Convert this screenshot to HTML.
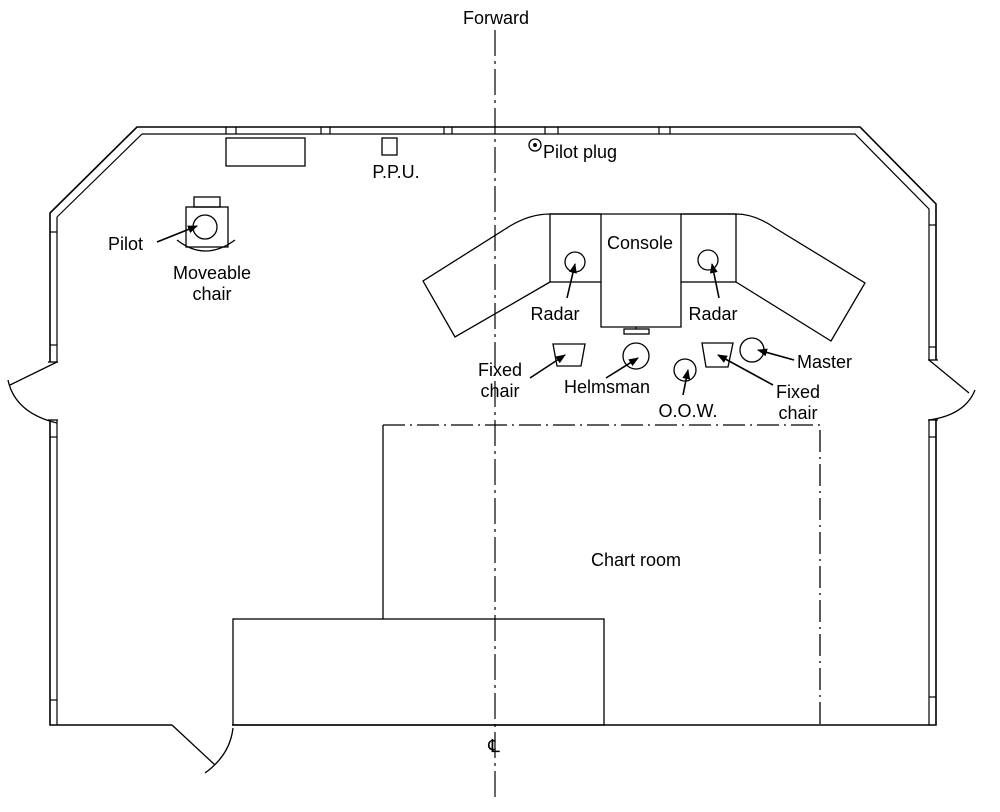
<!DOCTYPE html>
<html><head><style>
html,body{margin:0;padding:0;background:#fff;}
svg{display:block;}
text{font-family:"Liberation Sans",sans-serif;font-size:18px;fill:#000;}
</style></head><body>
<svg width="1000" height="812" viewBox="0 0 1000 812" xmlns="http://www.w3.org/2000/svg">
<defs><marker id="a" markerWidth="10" markerHeight="8" refX="9" refY="4" orient="auto" markerUnits="userSpaceOnUse"><path d="M0,0 L10,4 L0,8 z" fill="#000"/></marker></defs>
<g fill="none" stroke="#000" stroke-width="1.6">
<!-- outer walls -->
<path d="M137,127 L860,127 L936,204 L936,725 L50,725 L50,213 Z"/>
<path d="M142,134 L855,134 L929,209 L929,725 M57,725 L57,217 Z" stroke-width="1.2"/>
<path d="M142,134 L57,217" stroke-width="1.2"/>
<!-- window mullions -->
<g stroke-width="1.2">
<line x1="226" y1="127" x2="226" y2="134"/><line x1="236" y1="127" x2="236" y2="134"/>
<line x1="321" y1="127" x2="321" y2="134"/><line x1="330" y1="127" x2="330" y2="134"/>
<line x1="444" y1="127" x2="444" y2="134"/><line x1="452" y1="127" x2="452" y2="134"/>
<line x1="545" y1="127" x2="545" y2="134"/><line x1="558" y1="127" x2="558" y2="134"/>
<line x1="659" y1="127" x2="659" y2="134"/><line x1="670" y1="127" x2="670" y2="134"/>
<line x1="50" y1="232" x2="57" y2="232"/><line x1="50" y1="345" x2="57" y2="345"/>
<line x1="50" y1="437" x2="57" y2="437"/><line x1="50" y1="700" x2="57" y2="700"/>
<line x1="929" y1="225" x2="936" y2="225"/><line x1="929" y1="347" x2="936" y2="347"/>
<line x1="929" y1="437" x2="936" y2="437"/><line x1="929" y1="697" x2="936" y2="697"/>
</g>
</g>
<!-- door gaps -->
<rect x="48" y="362" width="11" height="58" fill="#fff"/>
<rect x="927" y="360" width="11" height="60" fill="#fff"/>
<rect x="172" y="722" width="60" height="6" fill="#fff"/>
<g fill="none" stroke="#000" stroke-width="1.3">
<line x1="48" y1="362" x2="58" y2="362"/><line x1="48" y1="420" x2="58" y2="420"/>
<line x1="928" y1="360" x2="938" y2="360"/><line x1="928" y1="420" x2="938" y2="420"/>
<path d="M57,362 L10,385"/><path d="M8,380 Q15,413 57,423"/>
<path d="M929,360 L969,393"/><path d="M975,390 Q965,415 929,420"/>
<path d="M172,725 L215,765"/><path d="M233,728 Q230,755 205,773"/>
<!-- fixtures -->
<rect x="226" y="138" width="79" height="28"/>
<rect x="382" y="138" width="15" height="17"/>
<circle cx="535" cy="145" r="6"/><circle cx="535" cy="145" r="1.3" fill="#000"/>
<!-- pilot chair -->
<rect x="194" y="197" width="26" height="10"/>
<rect x="186" y="207" width="42" height="40"/>
<circle cx="205" cy="227" r="12"/>
<path d="M177,240 Q205,262 235,240"/>
<!-- console -->
<path d="M550,214 L736,214"/>
<rect x="550" y="214" width="51" height="68"/>
<rect x="681" y="214" width="55" height="68"/>
<path d="M601,282 L601,327 L681,327 L681,282"/>
<path d="M550,214 Q530,214 510,226 L423,281 L455,337 L550,282"/>
<path d="M736,214 Q755,214 775,228 L865,283 L831,341 L736,282"/>
<circle cx="575" cy="262" r="10"/><circle cx="708" cy="260" r="10"/>
<rect x="624" y="329" width="25" height="5"/><line x1="636" y1="327" x2="636" y2="329"/>
<circle cx="636" cy="356" r="13"/>
<path d="M553,344 L585,344 L581,366 L557,366 Z"/>
<circle cx="685" cy="370" r="11"/>
<path d="M702,343 L733,343 L728,367 L706,367 Z"/>
<circle cx="752" cy="350" r="12"/>
<!-- chart room -->
<path d="M383,425 L383,619"/>
<path d="M383,425 L820,425 L820,725" stroke-dasharray="22,5,2,5"/>
<rect x="233" y="619" width="371" height="106"/>
<line x1="495" y1="30" x2="495" y2="800" stroke-width="1.2" stroke-dasharray="26,5,3,5"/>
</g>
<!-- arrows -->
<g stroke="#000" stroke-width="1.6" fill="none" marker-end="url(#a)">
<line x1="157" y1="242" x2="197" y2="226"/>
<line x1="567" y1="298" x2="575" y2="264"/>
<line x1="719" y1="298" x2="712" y2="264"/>
<line x1="530" y1="378" x2="565" y2="355"/>
<line x1="606" y1="378" x2="638" y2="358"/>
<line x1="683" y1="395" x2="688" y2="370"/>
<line x1="773" y1="385" x2="718" y2="355"/>
<line x1="794" y1="360" x2="758" y2="350"/>
</g>
<text x="496" y="24" text-anchor="middle">Forward</text>
<text x="396" y="178" text-anchor="middle" font-size="16">P.P.U.</text>
<text x="543" y="158">Pilot plug</text>
<text x="108" y="250">Pilot</text>
<text x="212" y="279" text-anchor="middle">Moveable</text>
<text x="212" y="300" text-anchor="middle">chair</text>
<text x="640" y="249" text-anchor="middle">Console</text>
<text x="555" y="320" text-anchor="middle">Radar</text>
<text x="713" y="320" text-anchor="middle">Radar</text>
<text x="500" y="376" text-anchor="middle">Fixed</text>
<text x="500" y="397" text-anchor="middle">chair</text>
<text x="607" y="393" text-anchor="middle">Helmsman</text>
<text x="688" y="417" text-anchor="middle">O.O.W.</text>
<text x="798" y="398" text-anchor="middle">Fixed</text>
<text x="798" y="419" text-anchor="middle">chair</text>
<text x="797" y="368">Master</text>
<text x="636" y="566" text-anchor="middle">Chart room</text>
<text x="494" y="752" text-anchor="middle" font-size="16">℄</text>
</svg>
</body></html>
